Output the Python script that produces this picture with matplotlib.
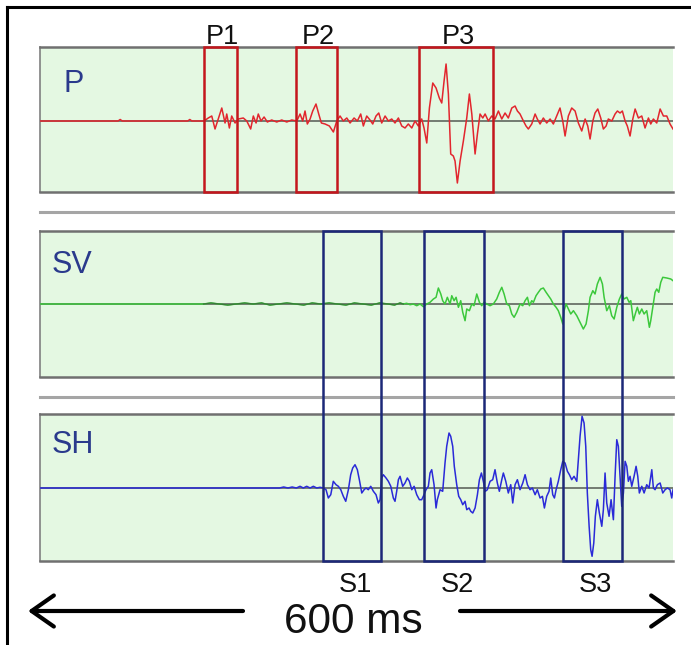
import matplotlib
matplotlib.use('Agg')
import matplotlib.pyplot as plt
import matplotlib.transforms as mtransforms
from matplotlib.patches import Rectangle, FancyArrowPatch
from matplotlib.lines import Line2D
import numpy as np

# ---------------- data (time in ms, amplitude in arbitrary units) ----------------
P_T = [0, 74, 76, 78, 140, 142, 144, 155.5,
       159.5, 162.8, 165.9, 169.0, 172.3, 175.4, 177.0, 179.5, 181.7, 184.9,
       188.0, 192.7, 196.0, 199.7, 202.2, 204.8, 206.9, 209.5, 212.4, 215.5,
       219.6, 224.4, 229.1, 233.9, 238.6, 243.4, 246.5, 249.0, 251.2, 253.4,
       256.0, 258.5, 261.6, 264.2, 266.7, 270.2, 274.3, 278.1, 281.3, 284.4,
       287.5, 290.8, 293.9, 297.7, 300.8, 304.0, 306.5, 309.7, 312.8, 315.4,
       318.5, 321.1, 323.9, 327.1, 330.2, 333.4, 336.5, 339.7, 342.9, 346.0,
       349.1, 352.4, 355.5, 358.6,
       361.8, 364.0, 366.6, 369.1, 372.3, 375.4, 378.5, 380.8, 383.0, 384.9,
       387.1, 389.3, 391.8, 393.4, 395.6, 398.2, 401.3, 404.5, 407.0, 409.3,
       412.4, 414.6, 417.1, 419.7, 421.9, 425.0, 428.2, 431.3, 434.5, 437.7,
       440.8, 443.9, 447.2, 450.3, 452.5, 455.0, 458.2, 460.7, 462.9, 466.1,
       469.3, 471.4, 474.0, 477.1, 480.3, 483.5, 486.6, 489.8, 492.9, 495.5,
       497.7, 500.8, 504.0, 507.2, 510.3, 513.5, 516.7, 519.2, 521.4, 524.0,
       526.1, 528.7, 531.5, 534.0, 536.6, 538.7, 542.0, 545.1, 547.3, 549.8,
       552.0, 554.6, 556.7, 559.3, 561.9, 564.1, 567.2, 570.4, 573.5, 576.7,
       578.9, 581.4, 584.6, 587.8, 590.9, 594.1, 597.2, 600.0]
P_V = [0, 0, 1.5, 0, 0, 1.5, 0, 0,
       3, 5, -8, 2, 13, -2, 7, -7, 5, -2,
       2, 3, 0, -8, 5, -2, 7, 0, 4, -1,
       1, -1, 1, -1, 1, 0, 7, 0, 10, -3,
       2, 10, 17, 7, -2, -3, -5, -11, 0, 5,
       0, 3, -2, 3, 0, 7, -5, 5, 1, -3,
       5, 8, -2, 5, 0, 2, -2, 3, -5, -7,
       -3, -7, 0, -5,
       2, -7, -22, 13, 38, 33, 23, 18, 40, 57,
       27, -33, -35, -40, -62, -40, -20, 3, 27, 7,
       -33, -13, 7, 3, 7, 0, 5, 2, 10, 2,
       8, 3, 13, 15, 10, 7, 0, -5, -8, -3,
       7, 2, -3, 3, -2, 2, -3, 5, 13, 0,
       -15, 5, 13, 10, -2, -10, 2, -5, -18, 0,
       8, 12, 3, -8, -5, 2, 0, 7, 10, 8,
       10, 0, -5, -15, 2, 12, 3, 5, -7, 3,
       -3, 2, -2, 12, 5, 5, -3, -8]

SV_T = [0, 155, 162, 170, 178, 186, 194, 202, 210, 218, 226, 234, 242, 250,
        258, 266, 274, 282, 290, 298, 306, 314, 322, 330, 336,
        341.3, 344.4, 347.6, 350.8, 353.9, 357.1, 360.2, 363.4, 366.6, 369.7,
        372.9, 375.4, 377.6, 379.9, 381.7, 383.9, 386.1, 388.7, 390.3, 392.5,
        394.4, 396.6, 398.8, 400.7, 402.9, 404.5, 407.0, 409.3, 411.4, 414.0,
        416.5, 418.7, 420.9, 423.5, 426.6, 429.7, 432.9, 435.4, 437.7, 439.9,
        442.4, 444.9, 447.2, 449.4, 451.9, 455.0, 457.6, 459.8, 462.0, 463.9,
        466.1, 467.7, 470.2, 472.4, 474.7, 477.1, 479.7, 481.9, 484.1, 486.6,
        489.2, 491.3, 493.6, 495.5, 496.8, 498.6, 500.8, 503.1, 505.6, 508.8,
        511.9, 515.0, 517.6, 519.8, 521.4, 524.0, 526.1, 528.3, 530.9, 533.1,
        534.7, 537.2, 539.7, 541.9, 544.2, 546.7, 549.2, 551.4, 553.6, 556.2,
        558.4, 560.0, 562.4, 564.7, 566.2, 568.1, 570.4, 572.6, 575.1, 577.6,
        578.9, 580.8, 583.0, 584.6, 586.5, 588.4, 590.3, 594.1, 597.9, 600.0]
SV_V = [0, 0, 1, 0, -1, 0, 1, 0, 1, -1, 0, 1, 0, -1,
        1, 0, 1, 0, -1, 1, 0, -1, 1, 0, -1,
        1, 0, 0.7, -0.7, 0, -1.7, 0, -2.7, 0, 1.7,
        5, 6.7, 16, 10, 3.3, 0, 6.7, 0, 8.3, 3.3,
        6.7, -3.3, 3.3, -8.3, -16.7, -5, -6.7, 0, -1.7, 10,
        1.7, -1.7, 1.7, 0, -1.7, 0, 5, 11.7, 16.7, 10,
        0, -1.7, -10, -13.3, -8.3, 0, -1.7, 3.3, 6.7, -1.7,
        3.3, 1.7, 8.3, 11.7, 15, 16, 11.7, 8.3, 5, 0,
        -3.3, -6.7, -13.3, -20, -6.7, 0, -5, -10, -6.7, -11.7,
        -18.3, -25, -20, -6.7, 6.7, 13.3, 10, 20, 26.7, 20,
        6.7, -6.7, -1.7, -11.7, -15, -3.3, 5, 10, 5, 6.7,
        1.7, 3.3, -16.7, -8.3, -3.3, -10, -5, -10, -6.7, -23.3,
        -16.7, -3.3, 11.7, 15, 11.7, 21.7, 26.7, 26, 25, 23.3]

SH_T = [0, 227, 231, 235, 239, 243,
        246.5, 249.6, 252.8, 256.0, 259.1, 262.3, 265.4, 268.6, 271.1, 273.3,
        275.6, 278.0, 280.6, 282.8, 285.1, 287.5, 289.8, 292.3, 294.5, 296.4,
        298.6, 300.8, 302.7, 305.0, 307.2, 309.0, 311.2, 313.5, 316.0, 318.5,
        320.7, 322.3, 323.9, 325.4, 328.0, 330.2, 332.5, 334.9, 336.5, 338.1,
        339.7, 341.3, 343.8, 346.0, 348.2, 350.1, 352.4, 354.6, 357.1, 359.6,
        361.8, 364.0, 365.9, 368.1, 369.7, 371.3, 373.5, 375.4, 376.6, 379.2,
        381.7, 383.9, 385.5, 387.7, 389.3, 391.2, 392.7, 395.0, 396.9, 398.8,
        400.7, 402.9, 404.5, 406.7, 408.3, 410.2, 412.4, 414.6, 416.5, 418.4,
        420.2, 422.1, 424.0,
        426.6, 429.1, 431.3, 433.5, 435.4, 437.7, 439.2, 441.5, 443.9, 446.2,
        448.1, 450.3, 452.5, 455.0, 457.6, 459.8, 462.0, 464.5, 466.7, 469.3,
        471.4, 474.0, 476.2, 478.1, 480.3, 482.5, 484.1, 486.0, 487.6, 489.2,
        491.3, 493.6, 495.5, 497.7, 499.9, 501.8, 504.0, 506.2, 508.8, 510.3,
        511.9, 513.8, 515.7, 517.3, 518.8, 520.5, 522.0, 523.3, 524.9, 526.4,
        528.3, 530.2, 532.5, 534.0, 535.6, 537.2, 539.4, 541.3, 543.5, 545.1,
        546.7, 548.2, 549.8, 551.4, 553.0, 554.6, 556.2, 557.7, 559.3, 560.9,
        563.1, 565.0, 566.6, 568.1, 570.4, 572.6, 575.1, 577.3, 579.9, 581.4,
        583.0, 585.2, 587.8, 590.3, 592.5, 594.7, 597.2, 598.8, 600.0]
SH_V = [0, 0, 1, 0, 1, 0,
        1.7, 0, 1.7, 0, 1.7, 0, 0.7, 0, -1.7, -10,
        -6.7, 6.7, 3.3, 1.7, -1.7, -8.3, -13.3, -1.7, 13.3, 20,
        23.3, 18.3, 8.3, -5, -1.7, 0, -1.7, 1.7, -3.3, -6.7,
        -15, -11.7, 10, 13.3, 10, 6.7, 1.7, -10, -13.3, -3.3,
        8.3, 11.7, 1.7, 5, 10, 6.7, -1.7, 1.7, -6.7, -11.7,
        -11.7, -6.7, -1.7, 1.7, 15, 18.3, 3.3, -20, -11.7, -1.7,
        -3.3, 25, 41.7, 55, 51.7, 41.7, 21.7, 3.3, -8.3, -11.7,
        -16.7, -13.3, -21.7, -20, -23.3, -25, -20, -6.7, 8.3, 15,
        6.7, -3.3, -1.7,
        6.7, 8.3, 18.3, 5, -3.3, 8.3, 15, 6.7, -5, 3.3,
        -15, 3.3, 8.3, -1.7, 5, 13.3, 3.3, -1.7, 0, -6.7,
        -1.7, -10, -8.3, -20, -8.3, -3.3, 10, -6.7, -10, -1.7,
        6.7, 18.3, 26.7, 25, 16.7, 13.3, 8.3, 11.7, 6.7, 28.3,
        51.7, 71.7, 65, 41.7, -5, -38.3, -61.7, -68.3, -55, -28.3,
        -11.7, -25, -38.3, -21.7, 15, -15, -28.3, -11.7, -31.7, 11.7,
        48.3, 41.7, 11.7, -18.3, -5, 26.7, 21.7, 6.7, 11.7, 1.7,
        11.7, 21.7, 11.7, -5, 1.7, -5, 3.3, 0, 18.3, 0,
        -1.7, 3.3, 5, -5, -1.7, 0, -1.7, -10, -1.7]

P_WINDOWS = [(155.5, 186.7), (242.6, 281.5), (359.2, 429.4)]
P_LABELS = ['P1', 'P2', 'P3']
S_WINDOWS = [(268.2, 323.2), (364.0, 420.9), (495.7, 551.7)]
S_LABELS = ['S1', 'S2', 'S3']
PANEL_NAMES = ['P', 'SV', 'SH']
SPAN_LABEL = '600 ms'

# ---------------- figure ----------------
plt.rcParams['font.family'] = ['Liberation Sans', 'DejaVu Sans']

W, H = 691, 645
fig = plt.figure(figsize=(W / 100, H / 100), dpi=100)


def fx(px):
    return px / W


def fy(py):
    return 1 - py / H


# panel geometry in pixels: (top, bottom, ymin, ymax)
geom = {'P': (47, 192, -71, 74), 'SV': (231, 377, -73, 73), 'SH': (414, 561, -73, 74)}
traces = {'P': (P_T, P_V, '#e2262e'), 'SV': (SV_T, SV_V, '#3cc83c'), 'SH': (SH_T, SH_V, '#2a2ad8')}
axes = {}
for name in PANEL_NAMES:
    top, bot, y0, y1 = geom[name]
    ax = fig.add_axes([fx(40), fy(bot), fx(673) - fx(40), fy(top) - fy(bot)])
    ax.set_xlim(0, 600)
    ax.set_ylim(y0, y1)
    ax.set_facecolor('#e4f8e2')
    ax.set_xticks([])
    ax.set_yticks([])
    ax.spines['right'].set_visible(False)
    for s in ('top', 'bottom'):
        ax.spines[s].set_color('#707070')
        ax.spines[s].set_linewidth(1.8)
    ax.spines['left'].set_color('#808080')
    ax.spines['left'].set_linewidth(1.2)
    ax.axhline(0, color='#5f665f', lw=1.2, zorder=2)
    t, v, c = traces[name]
    ax.plot(t, v, color=c, lw=1.1, zorder=3)
    axes[name] = ax

# darker early noise on SV
svt = np.array(SV_T)
svv = np.array(SV_V)
m = (svt >= 155) & (svt <= 345)
axes['SV'].plot(svt[m], svv[m], color='#3a7a3a', lw=0.9, zorder=3)

# panel labels
label_pos = {'P': (63, 92), 'SV': (52, 273), 'SH': (52, 453)}
for name in PANEL_NAMES:
    x, y = label_pos[name]
    fig.text(fx(x), fy(y), name, color='#2a3a8c', fontsize=22, ha='left', va='baseline')

# P windows
axp = axes['P']
tr_p = mtransforms.blended_transform_factory(axp.transData, axp.transAxes)
tr_pf = mtransforms.blended_transform_factory(axp.transData, fig.transFigure)
for (a, b), lab in zip(P_WINDOWS, P_LABELS):
    axp.add_patch(Rectangle((a, 0), b - a, 1, transform=tr_p, fill=False,
                            edgecolor='#c4161c', lw=1.8, clip_on=False, zorder=5))
    fig.text((a + b) / 2 + 2, fy(44), lab, transform=tr_pf, ha='center', va='baseline',
             fontsize=19.5, color='#111111')

# S windows spanning SV and SH panels
axsv = axes['SV']
tr_sf = mtransforms.blended_transform_factory(axsv.transData, fig.transFigure)
for (a, b), lab in zip(S_WINDOWS, S_LABELS):
    r = Rectangle((a, fy(561)), b - a, fy(231) - fy(561), transform=tr_sf, fill=False,
                  edgecolor='#1c2878', lw=1.8, zorder=6)
    fig.add_artist(r)
    fig.text((a + b) / 2 + 3, fy(592), lab, transform=tr_sf, ha='center', va='baseline',
             fontsize=19.5, color='#111111')

# separators
for y in (212, 397):
    fig.add_artist(Line2D([fx(40), fx(673)], [fy(y), fy(y)], transform=fig.transFigure,
                          color='#a5a5a5', lw=2.2))

# frame (left and top visible)
fig.add_artist(Line2D([fx(7), fx(7)], [fy(645), fy(7)], transform=fig.transFigure, color='black', lw=2.2))
fig.add_artist(Line2D([fx(7), fx(691)], [fy(7), fy(7)], transform=fig.transFigure, color='black', lw=2.2))

# time span arrows and label
fig.text(fx(353.5), fy(633), SPAN_LABEL, ha='center', va='baseline', fontsize=30.5, color='#111111')
for start, end in ((243, 28), (460, 677)):
    fig.add_artist(FancyArrowPatch((fx(start), fy(611)), (fx(end), fy(611)),
                                   transform=fig.transFigure,
                                   arrowstyle='->,head_length=0.4,head_width=0.28',
                                   mutation_scale=40, lw=3, color='black',
                                   shrinkA=0, shrinkB=0))

fig.savefig('out.png', dpi=100, facecolor='white')
